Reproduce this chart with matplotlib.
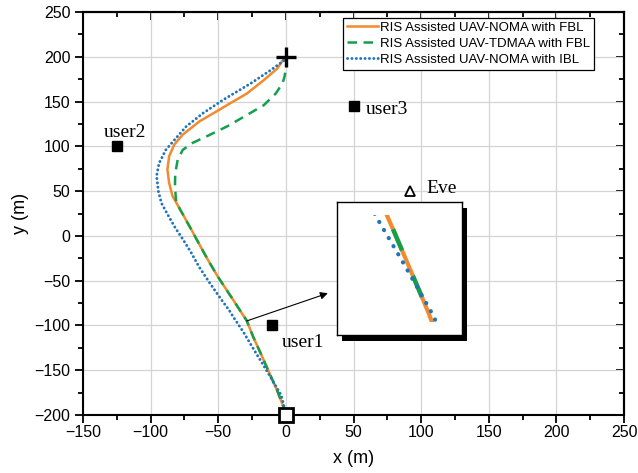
import matplotlib
matplotlib.use("Agg")
import numpy as np
import matplotlib.pyplot as plt
from matplotlib.patches import Rectangle
from matplotlib.ticker import MultipleLocator

# Trajectories (x, y) in metres, from start (0, 200) to end (0, -200)
noma_fbl_x = [0, -1.5, -6.3, -16.3, -28.8, -41.3, -51.3, -63.8, -76.3, -82.5, -86.3, -87.6,
              -86.3, -83.8, -80.8, -75.9, -69.7, -63.6, -57.4, -50.5, -44.0, -38.9, -33.8,
              -29.0, -24.1, -19.1, -14.2, -9.3, -5.6, -1.9, -0.6, 0]
noma_fbl_y = [200, 198, 187, 174, 159, 148, 139, 128, 113, 102, 89, 74,
              59, 44.4, 36.5, 23.3, 6.4, -10.5, -27.4, -45.0, -60.0, -71.6, -83.5,
              -94.5, -113, -129.6, -146.3, -163, -175.9, -190.7, -198, -200]

tdma_fbl_x = [0, 0.5, 0, -1.0, -2.5, -7.5, -16.3, -28.8, -43.8, -58.8, -68.8, -76.3, -80.0,
              -81.8, -82.0, -81.3, -80.8, -75.9, -69.7, -63.6, -57.4, -50.5, -44.0, -38.9,
              -33.8, -29.0, -24.1, -19.1, -14.2, -9.3, -5.6, -1.9, -0.6, 0]
tdma_fbl_y = [200, 195, 187, 178, 170.4, 159, 146, 135, 122, 111, 104, 96, 85,
              70, 55.5, 40.7, 36.5, 23.3, 6.4, -10.5, -27.4, -45.0, -60.0, -71.6,
              -83.5, -94.5, -113, -129.6, -146.3, -163, -175.9, -190.7, -198, -200]

noma_ibl_x = [0, -1.25, -11.3, -26.3, -46.3, -61.3, -73.8, -82.5, -88.8, -93.8, -95.6, -94.3,
              -92.0, -86.5, -81.5, -76.5, -70.3, -64.0, -56.6, -48.5, -41.6, -38.8, -31.4,
              -24.1, -16.6, -9.3, -3.5, -0.6, 0]
noma_ibl_y = [200, 196, 185, 170, 152, 137, 122, 107, 96, 81, 67, 50,
              36.5, 21.4, 8.3, -3, -18, -35, -51.9, -69.5, -83.8, -90.7, -107.4,
              -125.9, -144.4, -163, -177.8, -194.4, -200]

series_labels = ["RIS Assisted UAV-NOMA with FBL",
                 "RIS Assisted UAV-TDMAA with FBL",
                 "RIS Assisted UAV-NOMA with IBL"]

# Ground nodes
user_names = ["user1", "user2", "user3"]
user_x = [-10, -125, 50]
user_y = [-100, 100, 145]
eve_x, eve_y = 92, 50
start_xy = (0, 200)
end_xy = (0, -200)

c_orange = "#F28A2E"
c_green = "#13A04B"
c_blue = "#1F74BC"

fig = plt.figure(figsize=(6.38, 4.73), dpi=100)
ax = fig.add_axes([0.1301, 0.1226, 0.848, 0.852])

ax.plot(noma_fbl_x, noma_fbl_y, color=c_orange, lw=1.8, label=series_labels[0], zorder=3)
ax.plot(tdma_fbl_x, tdma_fbl_y, color=c_green, lw=1.8, dashes=(3.8, 2.6),
        label=series_labels[1], zorder=4)
ax.plot(noma_ibl_x, noma_ibl_y, color=c_blue, lw=2.1, dashes=(0.05, 1.45),
        dash_capstyle="round", label=series_labels[2], zorder=5)

# Start / end markers
ax.plot(*start_xy, marker="+", ms=15, mew=2.4, color="black", zorder=6, clip_on=False)
ax.plot(*end_xy, marker="s", ms=10, mew=2.0, mfc="white", mec="black", zorder=6,
        clip_on=False)

# Users and eavesdropper
ax.plot(user_x, user_y, ls="none", marker="s", ms=6.5, color="black", zorder=6)
ax.plot(eve_x, eve_y, marker="^", ms=7, mfc="white", mec="black", mew=1.3, zorder=6)

serif = ["Liberation Serif", "DejaVu Serif"]
ax.text(-3.1, -123.7, user_names[0], fontsize=14, family=serif, va="baseline")
ax.text(-134.3, 110.8, user_names[1], fontsize=14, family=serif, va="baseline")
ax.text(59.2, 136.1, user_names[2], fontsize=14, family=serif, va="baseline")
ax.text(103.6, 48.2, "Eve", fontsize=14, family=serif, va="baseline")

ax.annotate("", xy=(31, -64), xytext=(-29, -95),
            arrowprops=dict(arrowstyle="-|>", color="black", lw=0.8,
                            mutation_scale=11, shrinkA=0, shrinkB=0), zorder=7)

ax.set_xlim(-150, 250)
ax.set_ylim(-200, 250)
ax.xaxis.set_major_locator(MultipleLocator(50))
ax.yaxis.set_major_locator(MultipleLocator(50))
ax.xaxis.set_minor_locator(MultipleLocator(25))
ax.yaxis.set_minor_locator(MultipleLocator(25))
ax.grid(True, which="major", color="#d4d4d4", lw=0.9, zorder=0)
ax.set_axisbelow(True)

for sp in ax.spines.values():
    sp.set_linewidth(1.5)
ax.tick_params(which="both", direction="out", width=1.3, labelsize=11.5,
               top=False, right=False)
ax.tick_params(which="major", length=5.5)
ax.tick_params(which="minor", length=3.5)
ax.xaxis.set_tick_params(pad=2)

# Inward ticks on the mirrored top and right spines
sec_x = ax.secondary_xaxis("top")
sec_x.xaxis.set_major_locator(MultipleLocator(50))
sec_x.xaxis.set_minor_locator(MultipleLocator(25))
sec_x.tick_params(which="both", direction="in", width=1.3, labeltop=False)
sec_x.tick_params(which="major", length=5.5)
sec_x.tick_params(which="minor", length=3.5)
sec_x.spines["top"].set_linewidth(1.5)
sec_y = ax.secondary_yaxis("right")
sec_y.yaxis.set_major_locator(MultipleLocator(50))
sec_y.yaxis.set_minor_locator(MultipleLocator(25))
sec_y.tick_params(which="both", direction="in", width=1.3, labelright=False)
sec_y.tick_params(which="major", length=5.5)
sec_y.tick_params(which="minor", length=3.5)
sec_y.spines["right"].set_linewidth(1.5)

sans = ["Liberation Sans", "DejaVu Sans"]
for lab in ax.get_xticklabels() + ax.get_yticklabels():
    lab.set_family(sans)
ax.set_xlabel("x (m)", fontsize=13, family=sans, labelpad=7)
ax.set_ylabel("y (m)", fontsize=13, family=sans, labelpad=4)

leg = ax.legend(loc="upper left", bbox_to_anchor=(0.48, 0.986), borderaxespad=0,
                prop={"family": sans, "size": 9.5}, frameon=True, fancybox=False,
                edgecolor="black", framealpha=1, handlelength=2.4, handletextpad=0.1,
                labelspacing=0.28, borderpad=0.3)
leg.get_frame().set_linewidth(0.9)

# Magnified view with a drop shadow
W, H = 638, 473
ix0, iy0, iw, ih = 337.3, 335.0, 125.0, 132.7
shadow = Rectangle(((ix0 + 5) / W, 1 - (iy0 + 6) / H), iw / W, ih / H,
                   transform=fig.transFigure, facecolor="black", edgecolor="none",
                   zorder=8)
fig.patches.append(shadow)
axin = fig.add_axes([ix0 / W, 1 - iy0 / H, iw / W, ih / H], zorder=10)
axin.set_xlim(-41.1, 7.2)
axin.set_ylim(-187.4, -112.9)
clip = Rectangle((0, 0.1), 1, 0.805, transform=axin.transAxes)

# Zoomed TDMA segment: only the part of the path near the magnified window,
# with the dash pattern phased so a dash begins at y = -128 m
seg_idx = [i for i, y in enumerate(tdma_fbl_y) if -195 < y <= -110]
gx = [tdma_fbl_x[i] for i in seg_idx]
gy = [tdma_fbl_y[i] for i in seg_idx]
lw_in = 3.2
on_off = (5.2, 6.2)
pts = axin.transData.transform(np.column_stack([gx, gy]))
cum = np.concatenate([[0], np.cumsum(np.hypot(*np.diff(pts, axis=0).T))])
s_pt = np.interp(-128.0, np.array(gy)[::-1], cum[::-1]) * 72 / fig.dpi
period = sum(on_off) * lw_in
dash_off = ((-s_pt) % period) / lw_in

l1, = axin.plot(noma_fbl_x, noma_fbl_y, color=c_orange, lw=3.0)
l2, = axin.plot(gx, gy, color=c_green, lw=lw_in, linestyle=(dash_off, on_off))
l3, = axin.plot(noma_ibl_x, noma_ibl_y, color=c_blue, lw=3.0, dashes=(0.05, 2.2),
                dash_capstyle="round")
for ln in (l1, l2, l3):
    ln.set_clip_path(clip)
axin.set_xticks([])
axin.set_yticks([])
for sp in axin.spines.values():
    sp.set_linewidth(1.0)

fig.savefig("out.png", dpi=100)
